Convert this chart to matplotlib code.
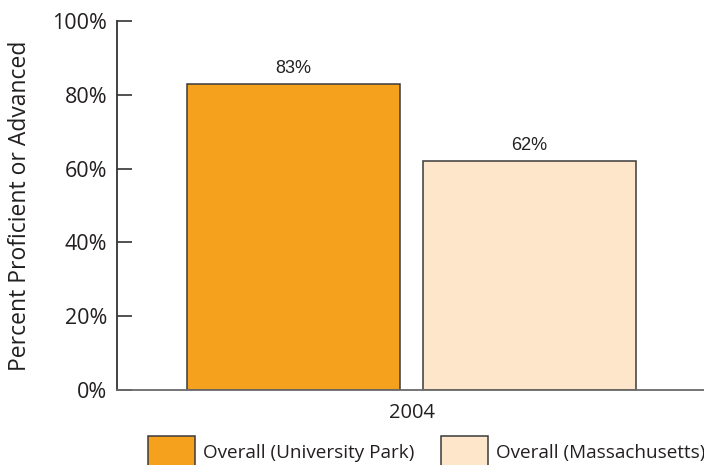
import matplotlib
matplotlib.use("Agg")
import matplotlib.pyplot as plt
from matplotlib.patches import Patch

# Data
years = ["2004"]
series_names = ["Overall (University Park)", "Overall (Massachusetts)"]
series_values = [83, 62]
series_colors = ["#F5A11D", "#FEE6CA"]
y_ticks = [0, 20, 40, 60, 80, 100]
y_tick_labels = ["0%", "20%", "40%", "60%", "80%", "100%"]

fig = plt.figure(figsize=(7.04, 4.65), dpi=100)
ax = fig.add_axes([117 / 704, 75 / 465, 587 / 704, 369 / 465])

label_font = "Open Sans"
value_font = "Liberation Sans"

positions = [0, 1]
bar_width = 0.9
for pos, val, col in zip(positions, series_values, series_colors):
    ax.bar(pos, val, width=bar_width, color=col, edgecolor="#3a3a3a",
           linewidth=1.1, zorder=2)
    ax.text(pos, val + 1.9, f"{val}%", ha="center", va="bottom",
            fontsize=13, family=value_font, color="#222222")

ax.set_xlim(-0.748, 1.739)
ax.set_ylim(0, 100)

ax.set_yticks(y_ticks)
ax.set_yticklabels(y_tick_labels, family=label_font, fontsize=15.5, color="#231f20")
ax.tick_params(axis="y", direction="in", length=10.5, width=1.2, color="#333333", pad=7)

ax.set_xticks([0.5])
ax.set_xticklabels(years, family=label_font, fontsize=14.5, color="#231f20")
ax.tick_params(axis="x", length=0, pad=9)

for side in ("top", "right"):
    ax.spines[side].set_visible(False)
ax.spines["left"].set_color("#333333")
ax.spines["left"].set_linewidth(1.3)
ax.spines["bottom"].set_color("#6a6a6a")
ax.spines["bottom"].set_linewidth(1.3)

ax.set_ylabel("Percent Proficient or Advanced", family=label_font, fontsize=16.5,
              color="#231f20")
ax.yaxis.set_label_coords(-0.145, 0.5)

handles = [Patch(facecolor=c, edgecolor="#3a3a3a", linewidth=1.1) for c in series_colors]
fig.legend(handles, series_names, loc="upper left",
           bbox_to_anchor=(148 / 704, 1 - 436 / 465), ncol=2, frameon=False,
           prop={"family": label_font, "size": 13.6}, handlelength=2.5,
           handleheight=2.3, handletextpad=0.43, columnspacing=1.38,
           borderpad=0, borderaxespad=0, labelcolor="#231f20")

fig.savefig("out.png", dpi=100)
